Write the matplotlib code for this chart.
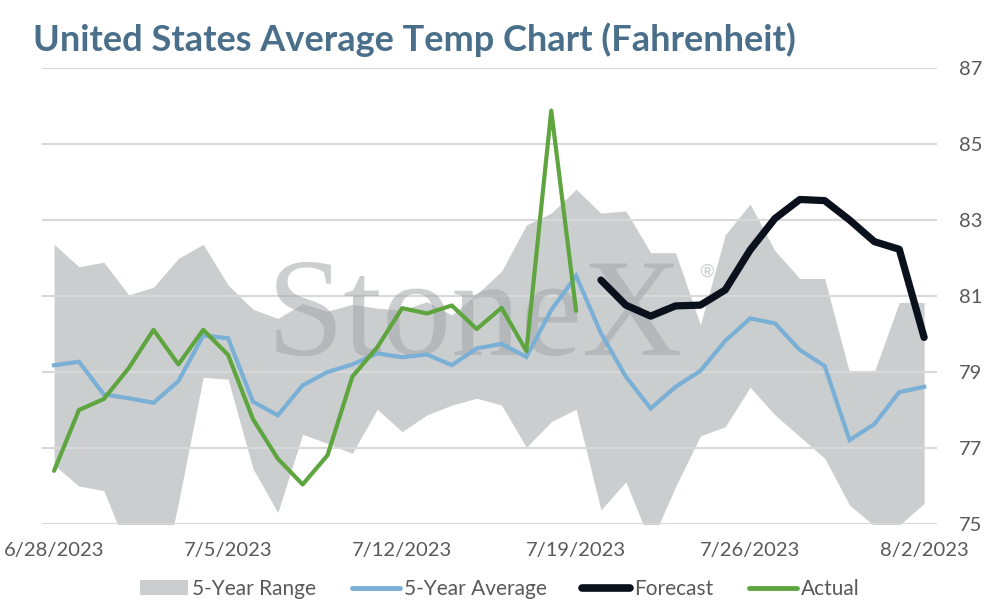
import pandas as pd
import matplotlib
matplotlib.use("Agg")
import matplotlib.pyplot as plt
from matplotlib.patches import Patch
from matplotlib.lines import Line2D

plt.rcParams['font.family'] = ['Lato', 'DejaVu Sans']

# 数据 (6/28/2023 - 8/2/2023, daily)
dates = pd.date_range("2023-06-28", "2023-08-02", freq="D")

range_high = [82.36, 81.77, 81.89, 81.03, 81.23, 81.99, 82.36, 81.29, 80.65, 80.41,
              80.80, 80.60, 80.78, 80.68, 80.63, 80.85, 80.50, 81.05, 81.65, 82.87,
              83.18, 83.81, 83.18, 83.24, 82.14, 82.14, 80.24, 82.61, 83.42, 82.19,
              81.46, 81.46, 78.98, 79.01, 80.83, 80.83]
range_low = [76.55, 76.00, 75.88, 74.27, 72.50, 75.55, 78.86, 78.81, 76.46, 75.30,
             77.36, 77.12, 76.86, 78.02, 77.43, 77.87, 78.13, 78.31, 78.13, 77.02,
             77.69, 78.02, 75.37, 76.11, 74.50, 75.98, 77.32, 77.56, 78.60, 77.87,
             77.30, 76.73, 75.50, 74.95, 74.97, 75.54]
avg_5yr = [79.18, 79.27, 78.41, 78.31, 78.19, 78.76, 79.96, 79.89, 78.22, 77.86,
           78.65, 79.00, 79.20, 79.49, 79.39, 79.46, 79.18, 79.62, 79.74, 79.40,
           80.63, 81.53, 80.02, 78.88, 78.04, 78.61, 79.03, 79.82, 80.41, 80.28,
           79.58, 79.16, 77.21, 77.63, 78.47, 78.61]
actual = [76.40, 78.00, 78.29, 79.10, 80.11, 79.20, 80.11, 79.45, 77.76, 76.72,
          76.04, 76.81, 78.88, 79.65, 80.68, 80.54, 80.75, 80.13, 80.69, 79.55,
          85.88, 80.61]
forecast = [81.42, 80.76, 80.47, 80.74, 80.76, 81.16, 82.21, 83.04, 83.54, 83.51,
            83.00, 82.43, 82.23, 79.91]

tick_labels = ["6/28/2023", "7/5/2023", "7/12/2023", "7/19/2023", "7/26/2023", "8/2/2023"]

# 颜色
c_range = "#cbcecf"
c_avg = "#7aafd6"
c_fc = "#0b111c"
c_act = "#5fa53f"
c_title = "#4a6f8a"
c_text = "#595959"

x = list(range(len(dates)))
x_act = x[:len(actual)]
x_fc = x[len(dates) - len(forecast):]

fig = plt.figure(figsize=(9.94, 6.06), dpi=100)
ax = fig.add_axes([0.0419, 0.1353, 0.9003, 0.7525])

ax.fill_between(x, range_low, range_high, color=c_range, lw=0, zorder=1)
ax.plot(x, avg_5yr, color=c_avg, lw=3.0, zorder=4, solid_joinstyle="miter")
ax.plot(x_fc, forecast, color=c_fc, lw=5.2, zorder=5, solid_capstyle="round")
ax.plot(x_act, actual, color=c_act, lw=3.0, zorder=6, solid_capstyle="round")

# 水印
ax.text(8.55, 79.45, "StoneX", family=["Liberation Serif", "DejaVu Serif"], fontsize=100,
        color="#a4a7aa", alpha=0.55, zorder=3, va="baseline", ha="left")
ax.text(25.95, 81.5, "®", fontsize=13, color="#a4a7aa", alpha=0.6, zorder=3,
        va="baseline", ha="left")

ax.set_xlim(-0.5, 35.5)
ax.set_ylim(75, 87)
ax.set_yticks(range(75, 88, 2))
ax.yaxis.tick_right()
ax.set_xticks(range(0, 36, 7))
ax.set_xticklabels(tick_labels)
ax.tick_params(axis="both", length=0, labelsize=14.5, colors=c_text)
ax.xaxis.set_tick_params(pad=13)
ax.yaxis.set_tick_params(pad=16)
ax.grid(axis="y", color="#d9d9d9", lw=1.5, zorder=0)
for s in ax.spines.values():
    s.set_visible(False)

fig.text(0.033, 0.934, "United States Average Temp Chart (Fahrenheit)", fontsize=26,
         fontweight="bold", color=c_title, va="center", ha="left")

handles = [Patch(facecolor=c_range, edgecolor="none"),
           Line2D([], [], color=c_avg, lw=3.5, solid_capstyle="round"),
           Line2D([], [], color=c_fc, lw=5.5, solid_capstyle="round"),
           Line2D([], [], color=c_act, lw=3.5, solid_capstyle="round")]
leg = fig.legend(handles, ["5-Year Range", "5-Year Average", "Forecast", "Actual"],
                 loc="center", bbox_to_anchor=(0.503, 0.028), ncol=4, frameon=False,
                 fontsize=15, handlelength=2.3, handletextpad=0.2, columnspacing=1.7)
for t in leg.get_texts():
    t.set_color(c_text)

fig.savefig("out.png", dpi=100)
